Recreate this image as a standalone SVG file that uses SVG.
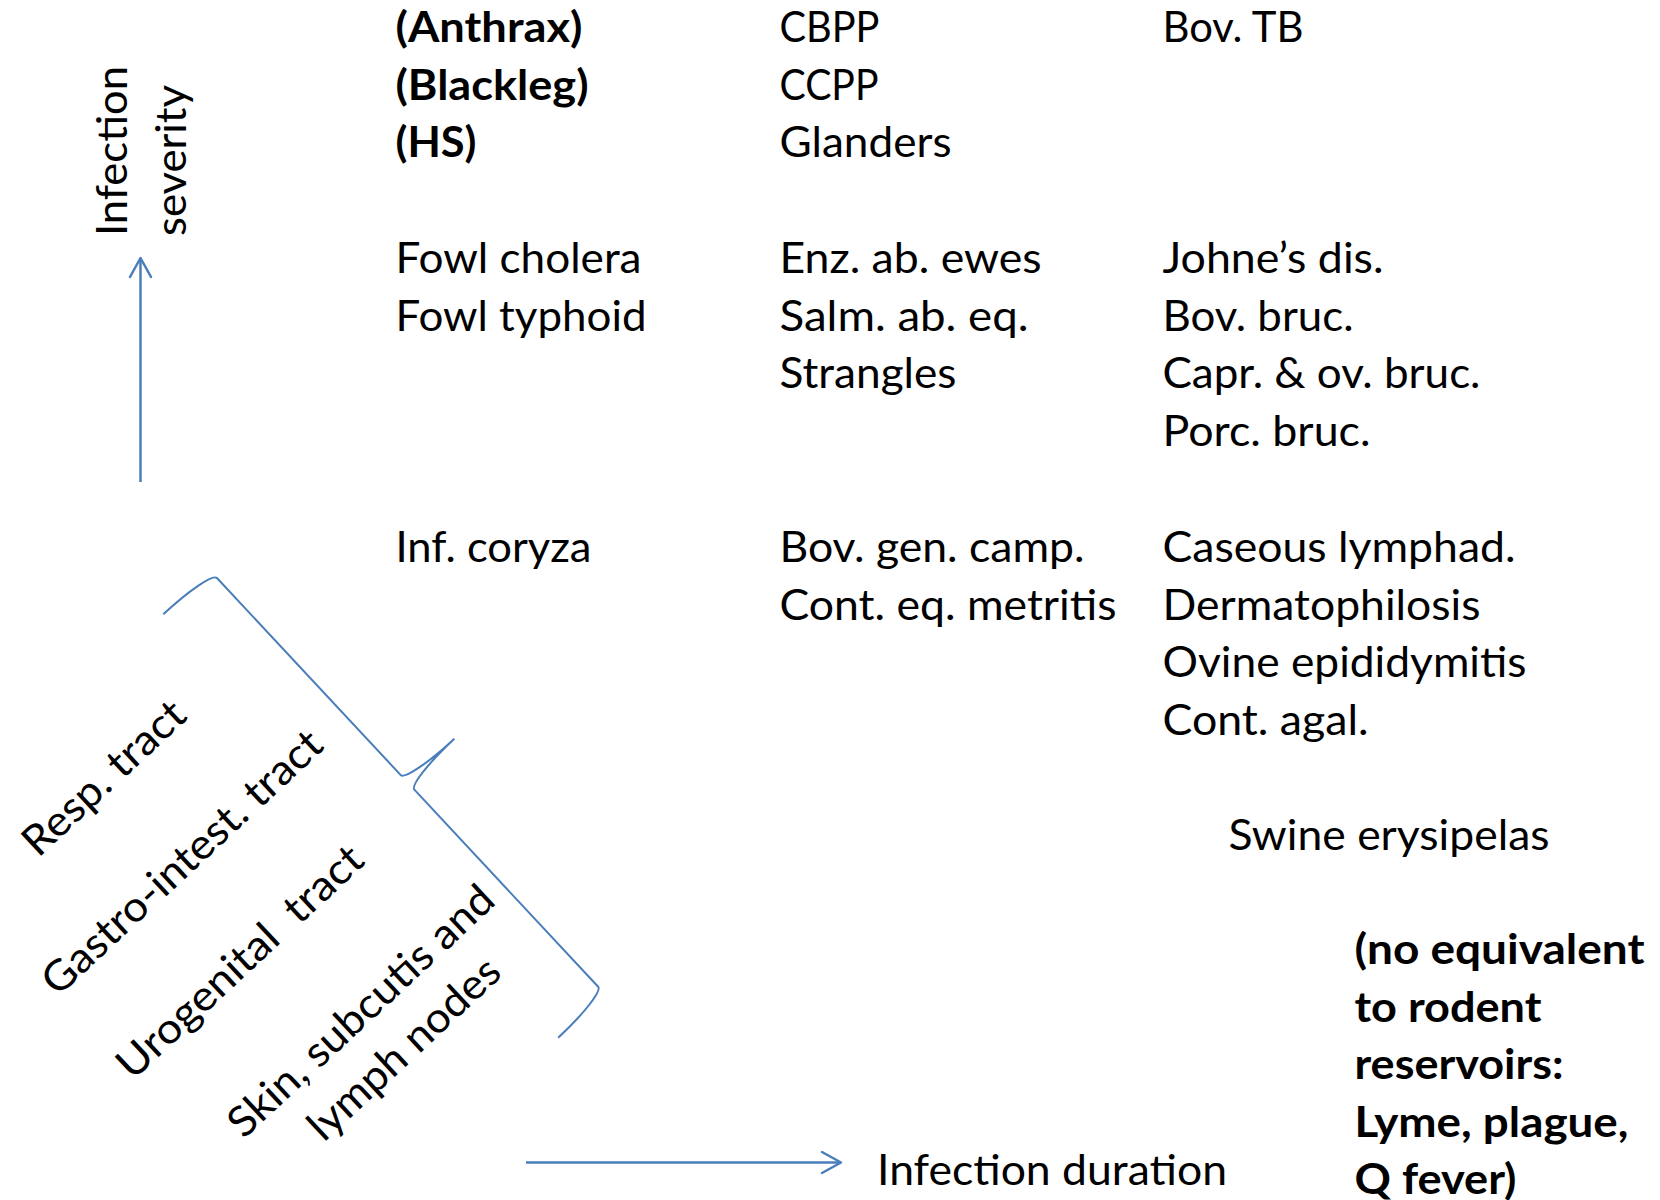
<svg xmlns="http://www.w3.org/2000/svg" width="1660" height="1200" viewBox="0 0 1660 1200">
<style>
  text { font-family: Lato, "Open Sans", "Liberation Sans", sans-serif; font-size: 42px; fill: #000; }
  .b { font-weight: bold; }
  .ln { fill: none; stroke: #4A7EBB; stroke-width: 2.5; }
  .br { fill: none; stroke: #4A7EBB; stroke-width: 2; }
</style>
<defs>
  <marker id="arr" markerUnits="userSpaceOnUse" markerWidth="40" markerHeight="40" viewBox="-30 -20 40 40" refX="0" refY="0" orient="auto" overflow="visible">
    <path d="M-19,-10.5 L0,0 L-19,10.5" fill="none" stroke="#4A7EBB" stroke-width="2.5" stroke-linecap="round" stroke-linejoin="round"/>
  </marker>
</defs>
<rect width="1660" height="1200" fill="#fff"/>

<g id="connectors">
  <line id="axis-severity" class="ln" x1="140.5" y1="482" x2="140.5" y2="258" marker-end="url(#arr)"/>
  <line id="axis-duration" class="ln" x1="526" y1="1162.5" x2="841" y2="1162.5" marker-end="url(#arr)"/>
  <path id="brace" class="br" transform="translate(163.3,614.3) rotate(-43)" d="M0,0 A64,10 0 0 1 64,10 L64,279.5 A64,10 0 0 0 128,289.5 A64,10 0 0 0 64,299.5 L64,569 A64,10 0 0 1 0,579"/>
</g>

<g id="label-severity">
  <text transform="translate(127,236) rotate(-90)" textLength="170" lengthAdjust="spacingAndGlyphs">Infection</text>
  <text transform="translate(185.5,236) rotate(-90)" textLength="151" lengthAdjust="spacingAndGlyphs">severity</text>
</g>

<g id="label-duration">
  <text x="877" y="1185" textLength="350" lengthAdjust="spacingAndGlyphs">Infection duration</text>
</g>

<g id="sites">
  <text transform="translate(38.2,858.6) rotate(-43)" textLength="206" lengthAdjust="spacingAndGlyphs">Resp. tract</text>
  <text transform="translate(57.8,997.6) rotate(-43)" textLength="366" lengthAdjust="spacingAndGlyphs">Gastro-intest. tract</text>
  <text xml:space="preserve" transform="translate(132.5,1081.3) rotate(-43)" textLength="320" lengthAdjust="spacingAndGlyphs">Urogenital  tract</text>
  <text transform="translate(370.6,1021.4) rotate(-43)" text-anchor="middle" textLength="347" lengthAdjust="spacingAndGlyphs">Skin, subcutis and</text>
  <text transform="translate(413.8,1059) rotate(-43)" text-anchor="middle" textLength="246" lengthAdjust="spacingAndGlyphs">lymph nodes</text>
</g>

<g id="col1-top">
  <text class="b" x="395.5" y="42" textLength="187" lengthAdjust="spacingAndGlyphs">(Anthrax)</text>
  <text class="b" x="395.5" y="99.5" textLength="193" lengthAdjust="spacingAndGlyphs">(Blackleg)</text>
  <text class="b" x="395.5" y="157" textLength="81" lengthAdjust="spacingAndGlyphs">(HS)</text>
</g>
<g id="col1-mid">
  <text x="395.5" y="273" textLength="246" lengthAdjust="spacingAndGlyphs">Fowl cholera</text>
  <text x="395.5" y="330.5" textLength="251" lengthAdjust="spacingAndGlyphs">Fowl typhoid</text>
</g>
<g id="col1-low">
  <text x="395.5" y="562" textLength="196" lengthAdjust="spacingAndGlyphs">Inf. coryza</text>
</g>

<g id="col2-top">
  <text x="779.5" y="42" textLength="100" lengthAdjust="spacingAndGlyphs">CBPP</text>
  <text x="779.5" y="99.5" textLength="99" lengthAdjust="spacingAndGlyphs">CCPP</text>
  <text x="779.5" y="157" textLength="172" lengthAdjust="spacingAndGlyphs">Glanders</text>
</g>
<g id="col2-mid">
  <text x="779.5" y="273" textLength="262" lengthAdjust="spacingAndGlyphs">Enz. ab. ewes</text>
  <text x="779.5" y="330.5" textLength="249" lengthAdjust="spacingAndGlyphs">Salm. ab. eq.</text>
  <text x="779.5" y="388" textLength="177" lengthAdjust="spacingAndGlyphs">Strangles</text>
</g>
<g id="col2-low">
  <text x="779.5" y="562" textLength="305" lengthAdjust="spacingAndGlyphs">Bov. gen. camp.</text>
  <text x="779.5" y="619.5" textLength="337" lengthAdjust="spacingAndGlyphs">Cont. eq. metritis</text>
</g>

<g id="col3-top">
  <text x="1162.5" y="42" textLength="141" lengthAdjust="spacingAndGlyphs">Bov. TB</text>
</g>
<g id="col3-mid">
  <text x="1162.5" y="273" textLength="221" lengthAdjust="spacingAndGlyphs">Johne’s dis.</text>
  <text x="1162.5" y="330.5" textLength="191" lengthAdjust="spacingAndGlyphs">Bov. bruc.</text>
  <text x="1162.5" y="388" textLength="318" lengthAdjust="spacingAndGlyphs">Capr. &amp; ov. bruc.</text>
  <text x="1162.5" y="445.5" textLength="208" lengthAdjust="spacingAndGlyphs">Porc. bruc.</text>
</g>
<g id="col3-low">
  <text x="1162.5" y="562" textLength="353" lengthAdjust="spacingAndGlyphs">Caseous lymphad.</text>
  <text x="1162.5" y="619.5" textLength="318" lengthAdjust="spacingAndGlyphs">Dermatophilosis</text>
  <text x="1162.5" y="677" textLength="364" lengthAdjust="spacingAndGlyphs">Ovine epididymitis</text>
  <text x="1162.5" y="734.5" textLength="206" lengthAdjust="spacingAndGlyphs">Cont. agal.</text>
</g>

<g id="swine">
  <text x="1228.5" y="850" textLength="321" lengthAdjust="spacingAndGlyphs">Swine erysipelas</text>
</g>

<g id="no-equivalent">
  <text class="b" x="1354.5" y="964" textLength="290" lengthAdjust="spacingAndGlyphs">(no equivalent</text>
  <text class="b" x="1354.5" y="1021.5" textLength="187" lengthAdjust="spacingAndGlyphs">to rodent</text>
  <text class="b" x="1354.5" y="1079" textLength="209" lengthAdjust="spacingAndGlyphs">reservoirs:</text>
  <text class="b" x="1354.5" y="1136.5" textLength="274" lengthAdjust="spacingAndGlyphs">Lyme, plague,</text>
  <text class="b" x="1354.5" y="1194" textLength="162" lengthAdjust="spacingAndGlyphs">Q fever)</text>
</g>
</svg>
